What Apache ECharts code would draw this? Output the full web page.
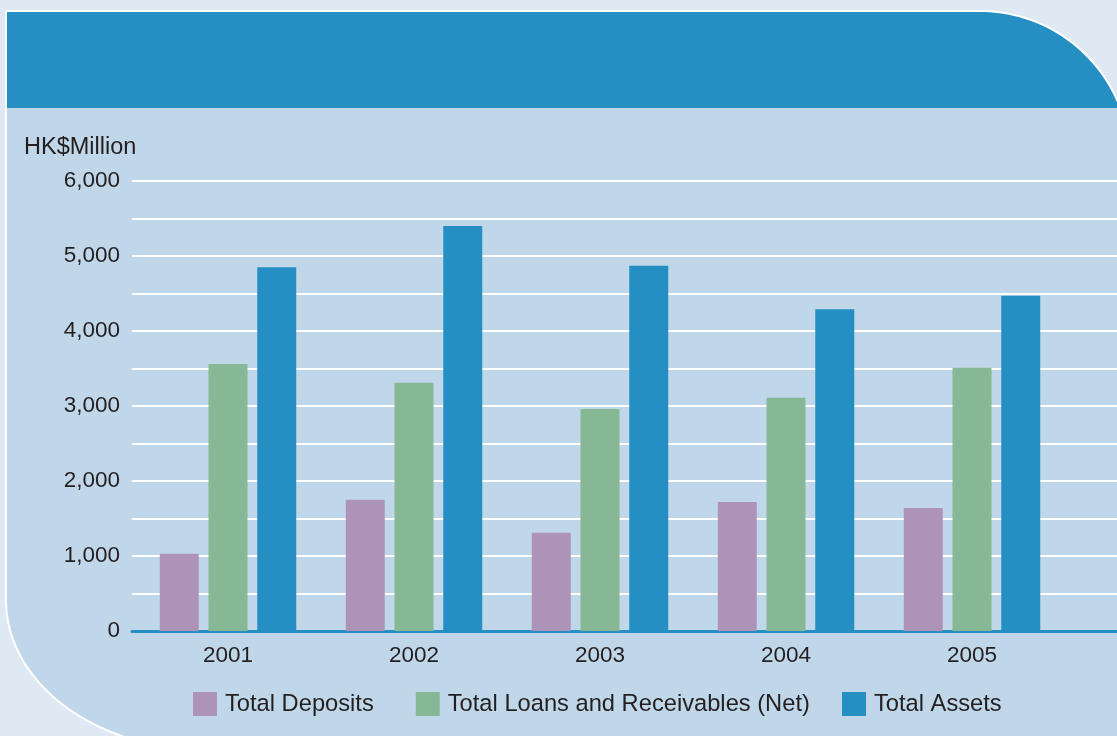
<!DOCTYPE html>
<html>
<head>
<meta charset="utf-8">
<script src="https://cdn.jsdelivr.net/npm/echarts@6/dist/echarts.min.js"></script>
<style>
html,body{margin:0;padding:0;background:#dfe9f3;}
#c{width:1117px;height:736px;}
</style>
</head>
<body>
<div id="c"></div>
<script>
var categories = ['2001', '2002', '2003', '2004', '2005'];
var totalDeposits = [1030, 1750, 1310, 1720, 1640];
var totalLoans = [3560, 3310, 2960, 3110, 3510];
var totalAssets = [4850, 5400, 4870, 4290, 4470];
var seriesNames = ['Total Deposits', 'Total Loans and Receivables (Net)', 'Total Assets'];
var yTicks = [0, 1000, 2000, 3000, 4000, 5000, 6000];
var unitLabel = 'HK$Million';

var FONT = "'Liberation Sans', Arial, sans-serif";
var TXT = '#231f20';
var BLUE = '#258fc3';

var chart = echarts.init(document.getElementById('c'), null, {renderer: 'canvas'});

function fmt(v) {
  return yTicks.indexOf(v) >= 0 ? v.toLocaleString('en-US') : '';
}

// decorative panel outline: rounded top-right (circle) and bottom-left (ellipse) corners
var panelPts = [], headerPts = [];
(function () {
  var i, a, N = 48;
  var cx = 980, cy = 161, r = 150;
  panelPts.push([6, 11]);
  for (i = 0; i <= N; i++) {
    a = Math.PI / 2 - (Math.PI / 2) * i / N;
    panelPts.push([cx + r * Math.cos(a), cy - r * Math.sin(a)]);
  }
  panelPts.push([1130, 750]);
  var ex = 206, ey = 600, rx = 200, ry = 150;
  for (i = 0; i <= N; i++) {
    a = Math.PI / 2 + (Math.PI / 2) * i / N;
    panelPts.push([ex + rx * Math.cos(a), ey + ry * Math.sin(a)]);
  }
  headerPts.push([6, 11]);
  var endAng = Math.asin((cy - 108) / r);
  for (i = 0; i <= N; i++) {
    a = Math.PI / 2 - (Math.PI / 2 - endAng) * i / N;
    headerPts.push([cx + r * Math.cos(a), cy - r * Math.sin(a)]);
  }
  headerPts.push([6, 108]);
})();

var legendBase = {
  top: 692, padding: 0,
  itemWidth: 24, itemHeight: 24, itemGap: 42,
  icon: 'rect',
  textStyle: {fontSize: 23.7, color: TXT, fontFamily: FONT, padding: [0, 0, 0, 3]}
};

var option = {
  backgroundColor: '#dfe9f3',
  animation: false,
  textStyle: {fontFamily: FONT},
  graphic: [
    {type: 'polygon', z: -10, shape: {points: panelPts}, style: {fill: '#c0d7ea'}},
    {type: 'polygon', z: -9, shape: {points: headerPts}, style: {fill: BLUE}},
    {type: 'polygon', z: -8, shape: {points: panelPts},
     style: {fill: 'transparent', stroke: '#ffffff', lineWidth: 2}},
    {type: 'text', x: 24, y: 148, z: 5,
     style: {text: unitLabel, font: '23.5px ' + FONT, fill: TXT, verticalAlign: 'middle', align: 'left'}}
  ],
  legend: [
    Object.assign({}, legendBase, {left: 193, data: seriesNames.slice(0, 2)}),
    Object.assign({}, legendBase, {left: 842, data: seriesNames.slice(2)})
  ],
  grid: [
    {left: 132, right: 0, top: 181, bottom: 105, containLabel: false},
    {left: 135, width: 930, top: 181, bottom: 105, containLabel: false}
  ],
  xAxis: [
    {gridIndex: 0, type: 'value', min: 0, max: 1, show: true,
     axisLine: {show: true, lineStyle: {color: BLUE, width: 3}},
     axisTick: {show: false}, axisLabel: {show: false}, splitLine: {show: false}},
    {gridIndex: 1, type: 'category', data: categories,
     axisLine: {show: false}, axisTick: {show: false},
     axisLabel: {color: TXT, fontSize: 22.5, fontFamily: FONT, margin: 13}}
  ],
  yAxis: [
    {gridIndex: 0, type: 'value', min: 0, max: 6000, interval: 500,
     axisLine: {show: false}, axisTick: {show: false},
     axisLabel: {color: TXT, fontSize: 22.5, fontFamily: FONT, margin: 12, formatter: fmt},
     splitLine: {show: true, lineStyle: {color: '#ffffff', width: 2}}},
    {gridIndex: 1, type: 'value', min: 0, max: 6000, show: false, splitLine: {show: false}}
  ],
  series: [
    {name: seriesNames[0], type: 'bar', xAxisIndex: 1, yAxisIndex: 1, data: totalDeposits,
     itemStyle: {color: '#ae93b8'}, barWidth: 39, barGap: '25%'},
    {name: seriesNames[1], type: 'bar', xAxisIndex: 1, yAxisIndex: 1, data: totalLoans,
     itemStyle: {color: '#87b896'}, barWidth: 39, barGap: '25%'},
    {name: seriesNames[2], type: 'bar', xAxisIndex: 1, yAxisIndex: 1, data: totalAssets,
     itemStyle: {color: BLUE}, barWidth: 39, barGap: '25%'}
  ]
};
chart.setOption(option);
</script>
</body>
</html>
